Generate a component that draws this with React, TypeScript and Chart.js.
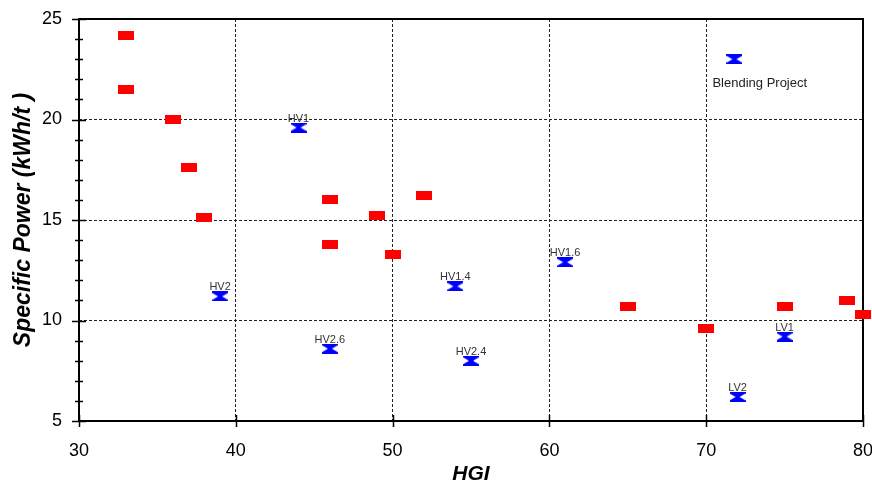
import { useEffect, useRef } from 'react';
import { Chart, registerables } from 'chart.js';

Chart.register(...registerables);

// Red series (unlabelled points)
const redX = [33, 33, 36, 37, 38, 46, 46, 49, 50, 52, 65, 70, 75, 79, 80];
const redY = [24.2, 21.5, 20.0, 17.6, 15.1, 16.0, 13.8, 15.2, 13.3, 16.2, 10.7, 9.6, 10.7, 11.0, 10.3];

// Blue labelled points
const blueNames = ['HV1', 'HV2', 'HV2.6', 'HV1.4', 'HV2.4', 'HV1.6', 'LV1', 'LV2'];
const blueX = [44, 39, 46, 54, 55, 61, 75, 72];
const blueY = [19.6, 11.2, 8.6, 11.7, 8.0, 12.9, 9.2, 6.2];

// Legend-like marker
const blendName = ['Blending Project'];
const blendX = [71.8];
const blendY = [23.0];

const xTicks = [30, 40, 50, 60, 70, 80];
const yTicks = [5, 10, 15, 20, 25];
const yMinorTicks = [6, 7, 8, 9, 11, 12, 13, 14, 16, 17, 18, 19, 21, 22, 23, 24];

const FONT = "Arial, 'Liberation Sans', sans-serif";

export default function App() {
  const ref = useRef<HTMLCanvasElement>(null);

  useEffect(() => {
    if (!ref.current) return;

    const rect = document.createElement('canvas');
    rect.width = 16;
    rect.height = 9;
    const rc = rect.getContext('2d')!;
    rc.fillStyle = '#ff0000';
    rc.fillRect(0, 0, 16, 9);

    const hg = document.createElement('canvas');
    hg.width = 16;
    hg.height = 10;
    const hc = hg.getContext('2d')!;
    hc.fillStyle = '#0000ff';
    hc.beginPath();
    hc.moveTo(0, 0);
    hc.lineTo(16, 0);
    hc.lineTo(16, 1.5);
    hc.lineTo(10, 5);
    hc.lineTo(16, 8.5);
    hc.lineTo(16, 10);
    hc.lineTo(0, 10);
    hc.lineTo(0, 8.5);
    hc.lineTo(6, 5);
    hc.lineTo(0, 1.5);
    hc.closePath();
    hc.fill();

    const framePlugin = {
      id: 'frameTicks',
      beforeDatasetsDraw(chart: any) {
        const { ctx, chartArea: a, scales } = chart;
        const xs = scales.x;
        const ys = scales.y;
        ctx.save();
        ctx.strokeStyle = '#000';
        ctx.setLineDash([]);
        ctx.lineWidth = 2;
        ctx.strokeRect(a.left, a.top, a.right - a.left, a.bottom - a.top);
        ctx.lineWidth = 1.5;
        ctx.beginPath();
        for (const v of xTicks) {
          const px = Math.round(xs.getPixelForValue(v)) + 0.5;
          ctx.moveTo(px, a.bottom - 6);
          ctx.lineTo(px, a.bottom + 6);
        }
        for (const v of yTicks) {
          const py = Math.round(ys.getPixelForValue(v)) + 0.5;
          ctx.moveTo(a.left - 7, py);
          ctx.lineTo(a.left + 7, py);
        }
        for (const v of yMinorTicks) {
          const py = Math.round(ys.getPixelForValue(v)) + 0.5;
          ctx.moveTo(a.left - 4, py);
          ctx.lineTo(a.left + 4, py);
        }
        ctx.stroke();
        ctx.restore();
      },
      afterDatasetsDraw(chart: any) {
        const { ctx } = chart;
        ctx.save();
        const blueMeta = chart.getDatasetMeta(1);
        ctx.fillStyle = '#333';
        ctx.font = `11px ${FONT}`;
        ctx.textAlign = 'center';
        ctx.textBaseline = 'alphabetic';
        blueMeta.data.forEach((pt: any, i: number) => {
          ctx.fillText(blueNames[i], pt.x, pt.y - 6);
        });
        const blendMeta = chart.getDatasetMeta(2);
        ctx.fillStyle = '#222';
        ctx.font = `13px ${FONT}`;
        ctx.textAlign = 'left';
        blendMeta.data.forEach((pt: any, i: number) => {
          ctx.fillText(blendName[i], pt.x - 22, pt.y + 28);
        });
        ctx.restore();
      },
    };

    const chart = new Chart(ref.current, {
      type: 'scatter',
      data: {
        datasets: [
          {
            label: 'Data',
            data: redX.map((x, i) => ({ x, y: redY[i] })),
            pointStyle: rect as any,
            pointRadius: 8,
            clip: false as any,
          },
          {
            label: 'Labelled',
            data: blueX.map((x, i) => ({ x, y: blueY[i] })),
            pointStyle: hg as any,
            pointRadius: 8,
            clip: false as any,
          },
          {
            label: 'Blending Project',
            data: blendX.map((x, i) => ({ x, y: blendY[i] })),
            pointStyle: hg as any,
            pointRadius: 8,
            clip: false as any,
          },
        ],
      },
      options: {
        responsive: false,
        animation: false,
        devicePixelRatio: 1,
        layout: { padding: { top: 19, right: 9, left: 0, bottom: 0 } },
        plugins: {
          legend: { display: false },
          tooltip: { enabled: false },
        },
        scales: {
          x: {
            type: 'linear',
            min: 30,
            max: 80,
            afterBuildTicks: (s: any) => {
              s.ticks = xTicks.map((v) => ({ value: v }));
            },
            afterFit: (s: any) => {
              s.height = 66;
              s.paddingLeft = 0;
              s.paddingRight = 0;
            },
            grid: { color: '#222', lineWidth: 1, drawTicks: false },
            border: { display: false, dash: [3, 2] },
            ticks: {
              color: '#000',
              padding: 19,
              maxRotation: 0,
              font: { family: FONT, size: 18 },
            },
            title: {
              display: true,
              text: 'HGI',
              color: '#000',
              font: { family: FONT, size: 21, weight: 'bold', style: 'italic' },
              padding: { top: 0, bottom: 0 },
            },
          },
          y: {
            type: 'linear',
            min: 5,
            max: 25,
            afterBuildTicks: (s: any) => {
              s.ticks = yTicks.map((v) => ({ value: v }));
            },
            afterFit: (s: any) => {
              s.width = 79;
              s.paddingTop = 0;
              s.paddingBottom = 0;
            },
            grid: { color: '#222', lineWidth: 1, drawTicks: false },
            border: { display: false, dash: [3, 2] },
            ticks: {
              color: '#000',
              padding: 17,
              font: { family: FONT, size: 18 },
            },
            title: {
              display: true,
              text: 'Specific Power (kWh/t )',
              color: '#000',
              font: { family: FONT, size: 23, weight: 'bold', style: 'italic' },
              padding: { top: 10, bottom: 0 },
            },
          },
        },
      } as any,
      plugins: [framePlugin],
    });

    return () => chart.destroy();
  }, []);

  return (
    <div style={{ position: 'fixed', left: 0, top: 0, width: 872, height: 487, background: '#fff' }}>
      <canvas ref={ref} width={872} height={487} />
    </div>
  );
}
